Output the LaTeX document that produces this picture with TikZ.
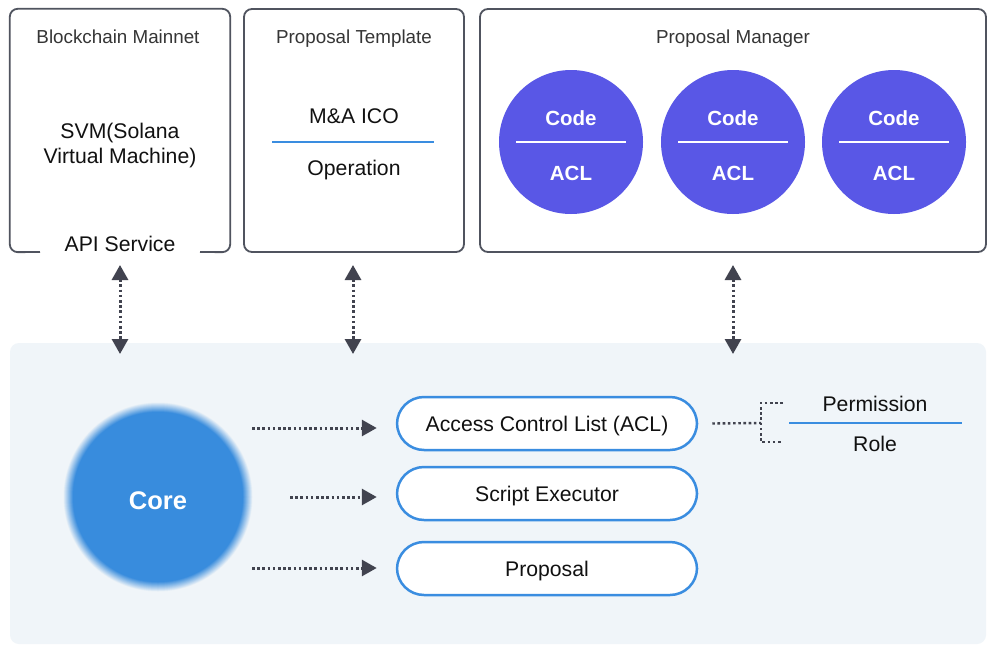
\documentclass[tikz,border=0pt]{standalone}
\usepackage{fontspec}
\setmainfont{Liberation Sans}
\usetikzlibrary{arrows.meta}
\definecolor{framec}{HTML}{50545F}
\definecolor{arrowc}{HTML}{41434F}
\definecolor{panelc}{HTML}{F0F5F9}
\definecolor{bluec}{HTML}{3A8DE0}
\definecolor{corec}{HTML}{388CDD}
\definecolor{indigoc}{HTML}{5957E6}
\definecolor{textc}{HTML}{111111}
\tikzset{
  txt/.style={text depth=0pt, inner sep=0pt},
  framebox/.style={draw=framec, line width=1.8pt, rounded corners=8pt, inner sep=0pt},
  headtxt/.style={txt, text height=13.5pt, font=\fontsize{18.8}{22}\selectfont, text=textc!85},
  bodytxt/.style={txt, text height=15.2pt, font=\fontsize{21.2}{25}\selectfont, text=textc},
  pill/.style={draw=bluec, fill=white, line width=2.5pt, rounded corners=27pt,
    minimum width=300pt, minimum height=53pt, text height=15.2pt, text depth=0pt,
    font=\fontsize{21.2}{25}\selectfont, text=textc},
  codeball/.style={circle, fill=indigoc, minimum size=144pt, inner sep=0pt},
  balltxt/.style={txt, text height=14.7pt, font=\bfseries\fontsize{20.5}{24}\selectfont, text=white},
  dotline/.style={draw=arrowc, line width=3pt, dash pattern=on 2.6pt off 2.6pt},
  dotarrow/.style={dotline, -{Triangle[length=15pt,width=16pt]}},
  dotboth/.style={dotline, {Triangle[length=15pt,width=16pt]}-{Triangle[length=15pt,width=16pt]}},
  sepline/.style={draw=bluec, line width=2.6pt},
}
\begin{document}
\begin{tikzpicture}[x=1pt,y=-1pt]
\useasboundingbox (0,0) rectangle (990,645);
\fill[white] (0,0) rectangle (990,645);

% lower panel
\fill[panelc, rounded corners=9pt] (10,343) rectangle (986,644);

% top boxes
\node[minimum width=220pt, minimum height=243pt, inner sep=0pt] (mainnet) at (120,130.5) {};
\draw[framec, line width=1.8pt, rounded corners=8pt]
  (40,252) -- (mainnet.south west) -- (mainnet.north west) -- (mainnet.north east)
  -- (mainnet.south east) -- (200,252);
\node[framebox, minimum width=220pt, minimum height=243pt] (tmpl) at (354,130.5) {};
\node[framebox, minimum width=506pt, minimum height=243pt] (mgr) at (733,130.5) {};

\node[headtxt] (mainnetT) at (118,37) {Blockchain Mainnet};
\node[headtxt] (tmplT) at (354,37) {Proposal Template};
\node[headtxt] (mgrT) at (733,37) {Proposal Manager};

\node[bodytxt] (svm1) at (120,131) {SVM(Solana};
\node[bodytxt] (svm2) at (120,156) {Virtual Machine)};
\node[bodytxt] (api) at (120,244) {API Service};

\node[bodytxt] (ma) at (354,116) {M\&A ICO};
\node[bodytxt] (oper) at (354,168) {Operation};
\draw[sepline] (272,142) -- (434,142);

% code / ACL balls
\foreach \cx/\nm in {571/b1,733/b2,894/b3}{
  \node[codeball] (\nm) at (\cx,142) {};
  \node[balltxt] at (\cx,118) {Code};
  \node[balltxt] at (\cx,173) {ACL};
  \draw[white, line width=2.6pt] (\cx-55,142) -- (\cx+55,142);
}

% vertical links
\foreach \x/\nm in {120/l1,353/l2,733/l3}{
  \coordinate (\nm t) at (\x,265);
  \coordinate (\nm b) at (\x,354);
  \draw[dotboth] (\nm t) -- (\nm b);
}

% core: solid disc with a soft rim, painted ring by ring
\foreach \r in {95,94.5,...,85}{
  \pgfmathsetmacro{\mixp}{min(100,max(0,100*(95-\r)/10))}
  \fill[corec!\mixp!panelc] (158,497) circle (\r);
}
\node[circle, minimum size=180pt, inner sep=0pt] (core) at (158,497) {};
\node[txt, text height=18.3pt, font=\bfseries\fontsize{25.5}{30}\selectfont, text=white] (coreT) at (158,500) {Core};

% component pills
\node[pill] (acl) at (547,423.5) {Access Control List (ACL)};
\node[pill] (exec) at (547,493.5) {Script Executor};
\node[pill] (prop) at (547,568.5) {Proposal};

\coordinate (a1) at (252,428);
\coordinate (a2) at (290,497);
\coordinate (a3) at (252,568);
\draw[dotarrow] (a1) -- ([xshift=-19pt]acl.west |- a1);
\draw[dotarrow] (a2) -- ([xshift=-19pt]exec.west |- a2);
\draw[dotarrow] (a3) -- ([xshift=-19pt]prop.west |- a3);

% permission / role bracket
\coordinate (br) at (761,423);
\coordinate (brt) at (783,403);
\coordinate (brb) at (783,442);
\draw[dotline, line width=2.4pt] ([xshift=14pt]acl.east) -- (br);
\draw[dotline, line width=2.4pt] (brt) -| (br) |- (brb);
\node[bodytxt] (perm) at (875,404) {Permission};
\node[bodytxt] (role) at (875,444) {Role};
\draw[sepline] (789,423) -- (962,423);
\end{tikzpicture}
\end{document}
